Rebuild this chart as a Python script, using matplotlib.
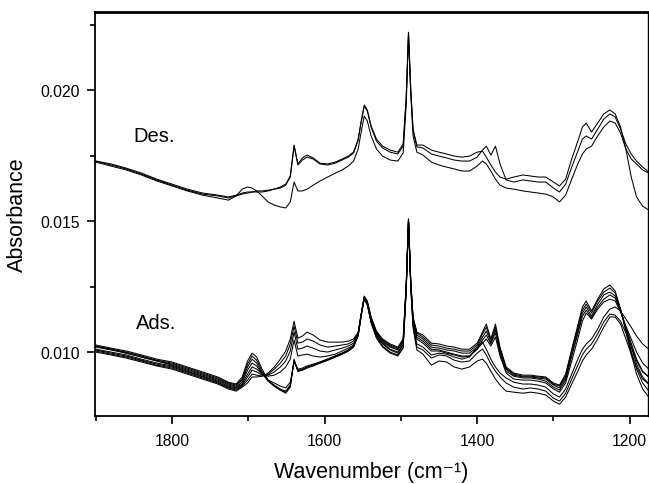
import matplotlib
matplotlib.use("Agg")
import matplotlib.pyplot as plt
from matplotlib.ticker import MultipleLocator, FormatStrFormatter

plt.rcParams['font.family'] = ['Liberation Sans', 'DejaVu Sans']
plt.rcParams['axes.unicode_minus'] = False

wavenumber = [1900, 1880, 1860, 1840, 1820, 1800, 1780, 1760, 1740, 1726, 1716, 1708,
              1701, 1695, 1689, 1682, 1674, 1666, 1658, 1651, 1645, 1640, 1635, 1629,
              1623, 1615, 1606, 1596, 1586, 1577, 1569, 1562, 1556, 1552, 1548, 1544,
              1539, 1532, 1524, 1514, 1504, 1497, 1493, 1490, 1487, 1484, 1479, 1471,
              1460, 1450, 1440, 1430, 1420, 1410, 1400, 1393, 1388, 1382, 1376, 1370,
              1362, 1352, 1340, 1330, 1320, 1310, 1300, 1292, 1284, 1276, 1268, 1262,
              1257, 1250, 1242, 1234, 1226, 1219, 1212, 1205, 1198, 1191, 1183, 1175]

# Desorption spectra
des_1 = [0.01729, 0.01714, 0.01699, 0.01679, 0.01657, 0.01637, 0.01618, 0.01603, 0.01596, 0.01588, 0.01596, 0.01603,
         0.01607, 0.01611, 0.01615, 0.01615, 0.01618, 0.01622, 0.01626, 0.01637, 0.01668, 0.01790, 0.01718, 0.01741,
         0.01752, 0.01741, 0.01721, 0.01718, 0.01725, 0.01737, 0.01748, 0.01763, 0.01813, 0.01882, 0.01943, 0.01924,
         0.01863, 0.01813, 0.01786, 0.01771, 0.01763, 0.01794, 0.01973, 0.02221, 0.02004, 0.01851, 0.01790, 0.01790,
         0.01771, 0.01763, 0.01756, 0.01748, 0.01744, 0.01748, 0.01763, 0.01767, 0.01744, 0.01714, 0.01687, 0.01668,
         0.01660, 0.01668, 0.01676, 0.01672, 0.01668, 0.01668, 0.01649, 0.01634, 0.01660, 0.01737, 0.01805, 0.01859,
         0.01874, 0.01840, 0.01874, 0.01909, 0.01924, 0.01909, 0.01859, 0.01775, 0.01668, 0.01592, 0.01557, 0.01542]
des_2 = [0.01729, 0.01718, 0.01702, 0.01683, 0.01660, 0.01641, 0.01622, 0.01607, 0.01599, 0.01592, 0.01599, 0.01607,
         0.01611, 0.01611, 0.01611, 0.01611, 0.01615, 0.01622, 0.01630, 0.01641, 0.01672, 0.01786, 0.01714, 0.01733,
         0.01744, 0.01737, 0.01718, 0.01714, 0.01721, 0.01733, 0.01744, 0.01760, 0.01809, 0.01878, 0.01939, 0.01920,
         0.01859, 0.01805, 0.01779, 0.01763, 0.01756, 0.01786, 0.01966, 0.02218, 0.01996, 0.01844, 0.01783, 0.01779,
         0.01756, 0.01748, 0.01741, 0.01733, 0.01729, 0.01729, 0.01744, 0.01771, 0.01786, 0.01752, 0.01786, 0.01718,
         0.01657, 0.01649, 0.01657, 0.01653, 0.01649, 0.01649, 0.01626, 0.01611, 0.01641, 0.01706, 0.01767, 0.01813,
         0.01825, 0.01813, 0.01851, 0.01889, 0.01909, 0.01897, 0.01851, 0.01794, 0.01756, 0.01729, 0.01706, 0.01687]
des_3 = [0.01725, 0.01710, 0.01695, 0.01676, 0.01653, 0.01634, 0.01615, 0.01599, 0.01588, 0.01580, 0.01596, 0.01622,
         0.01630, 0.01626, 0.01615, 0.01596, 0.01573, 0.01561, 0.01554, 0.01550, 0.01573, 0.01649, 0.01615, 0.01615,
         0.01622, 0.01637, 0.01653, 0.01668, 0.01683, 0.01695, 0.01710, 0.01729, 0.01775, 0.01840, 0.01901, 0.01882,
         0.01825, 0.01775, 0.01748, 0.01733, 0.01729, 0.01760, 0.01943, 0.02210, 0.01981, 0.01825, 0.01763, 0.01752,
         0.01725, 0.01714, 0.01706, 0.01699, 0.01691, 0.01691, 0.01710, 0.01729, 0.01718, 0.01691, 0.01660, 0.01637,
         0.01626, 0.01622, 0.01615, 0.01611, 0.01607, 0.01603, 0.01592, 0.01573, 0.01599, 0.01660, 0.01718, 0.01756,
         0.01775, 0.01786, 0.01825, 0.01859, 0.01882, 0.01874, 0.01836, 0.01775, 0.01737, 0.01718, 0.01695, 0.01683]

# Adsorption spectra
ads_1 = [0.01027, 0.01015, 0.01004, 0.00989, 0.00973, 0.00962, 0.00943, 0.00924, 0.00905, 0.00885, 0.00878, 0.00905,
         0.00966, 0.00996, 0.00981, 0.00935, 0.00893, 0.00870, 0.00855, 0.00843, 0.00866, 0.00973, 0.00927, 0.00931,
         0.00943, 0.00950, 0.00962, 0.00973, 0.00985, 0.00996, 0.01008, 0.01023, 0.01069, 0.01145, 0.01214, 0.01195,
         0.01134, 0.01080, 0.01050, 0.01031, 0.01019, 0.01050, 0.01260, 0.01508, 0.01271, 0.01134, 0.01076, 0.01065,
         0.01034, 0.01031, 0.01023, 0.01019, 0.01011, 0.01011, 0.01034, 0.01076, 0.01107, 0.01050, 0.01107, 0.01019,
         0.00943, 0.00920, 0.00912, 0.00912, 0.00908, 0.00905, 0.00882, 0.00874, 0.00916, 0.01011, 0.01103, 0.01172,
         0.01195, 0.01157, 0.01202, 0.01241, 0.01256, 0.01233, 0.01164, 0.01076, 0.00992, 0.00916, 0.00859, 0.00828]
ads_2 = [0.01023, 0.01011, 0.01000, 0.00985, 0.00969, 0.00958, 0.00939, 0.00920, 0.00901, 0.00882, 0.00874, 0.00897,
         0.00954, 0.00985, 0.00969, 0.00927, 0.00889, 0.00870, 0.00855, 0.00847, 0.00870, 0.00969, 0.00927, 0.00931,
         0.00939, 0.00947, 0.00958, 0.00969, 0.00981, 0.00992, 0.01004, 0.01019, 0.01065, 0.01141, 0.01210, 0.01191,
         0.01130, 0.01076, 0.01046, 0.01027, 0.01015, 0.01046, 0.01256, 0.01508, 0.01267, 0.01130, 0.01073, 0.01057,
         0.01027, 0.01023, 0.01015, 0.01011, 0.01004, 0.01004, 0.01027, 0.01069, 0.01095, 0.01046, 0.01095, 0.01011,
         0.00939, 0.00916, 0.00908, 0.00908, 0.00905, 0.00901, 0.00878, 0.00870, 0.00908, 0.01004, 0.01092, 0.01160,
         0.01183, 0.01149, 0.01195, 0.01229, 0.01244, 0.01225, 0.01164, 0.01084, 0.01004, 0.00935, 0.00882, 0.00851]
ads_3 = [0.01023, 0.01011, 0.00996, 0.00981, 0.00966, 0.00954, 0.00935, 0.00916, 0.00897, 0.00878, 0.00870, 0.00893,
         0.00943, 0.00973, 0.00958, 0.00920, 0.00889, 0.00874, 0.00859, 0.00851, 0.00874, 0.00966, 0.00931, 0.00935,
         0.00943, 0.00950, 0.00958, 0.00969, 0.00981, 0.00992, 0.01004, 0.01019, 0.01065, 0.01141, 0.01210, 0.01191,
         0.01126, 0.01073, 0.01042, 0.01023, 0.01011, 0.01042, 0.01252, 0.01504, 0.01263, 0.01126, 0.01065, 0.01050,
         0.01019, 0.01015, 0.01008, 0.01004, 0.00996, 0.00996, 0.01019, 0.01057, 0.01080, 0.01038, 0.01084, 0.01004,
         0.00935, 0.00912, 0.00905, 0.00905, 0.00901, 0.00897, 0.00874, 0.00863, 0.00901, 0.00992, 0.01080, 0.01149,
         0.01172, 0.01137, 0.01183, 0.01218, 0.01229, 0.01214, 0.01160, 0.01092, 0.01019, 0.00954, 0.00905, 0.00878]
ads_4 = [0.01019, 0.01008, 0.00996, 0.00981, 0.00966, 0.00950, 0.00931, 0.00912, 0.00893, 0.00874, 0.00866, 0.00885,
         0.00931, 0.00958, 0.00947, 0.00916, 0.00893, 0.00882, 0.00870, 0.00863, 0.00885, 0.00962, 0.00935, 0.00939,
         0.00947, 0.00954, 0.00962, 0.00973, 0.00985, 0.00996, 0.01008, 0.01023, 0.01061, 0.01137, 0.01206, 0.01187,
         0.01122, 0.01069, 0.01038, 0.01019, 0.01008, 0.01038, 0.01248, 0.01504, 0.01260, 0.01122, 0.01057, 0.01042,
         0.01011, 0.01008, 0.01000, 0.00992, 0.00985, 0.00985, 0.01011, 0.01046, 0.01065, 0.01031, 0.01073, 0.00996,
         0.00927, 0.00908, 0.00901, 0.00901, 0.00897, 0.00889, 0.00866, 0.00855, 0.00893, 0.00985, 0.01069, 0.01137,
         0.01160, 0.01130, 0.01172, 0.01202, 0.01218, 0.01206, 0.01157, 0.01095, 0.01034, 0.00973, 0.00927, 0.00905]
ads_5 = [0.01011, 0.01000, 0.00989, 0.00973, 0.00958, 0.00947, 0.00927, 0.00908, 0.00889, 0.00870, 0.00863, 0.00878,
         0.00916, 0.00943, 0.00935, 0.00916, 0.00908, 0.00912, 0.00924, 0.00943, 0.00973, 0.01046, 0.00985, 0.00989,
         0.00992, 0.00985, 0.00981, 0.00985, 0.00992, 0.01004, 0.01015, 0.01027, 0.01065, 0.01141, 0.01206, 0.01183,
         0.01118, 0.01065, 0.01034, 0.01011, 0.01000, 0.01031, 0.01244, 0.01500, 0.01256, 0.01118, 0.01050, 0.01034,
         0.01004, 0.01004, 0.00996, 0.00989, 0.00981, 0.00985, 0.01011, 0.01034, 0.01050, 0.01023, 0.01057, 0.00985,
         0.00920, 0.00897, 0.00893, 0.00893, 0.00889, 0.00882, 0.00859, 0.00847, 0.00882, 0.00966, 0.01050, 0.01118,
         0.01149, 0.01126, 0.01164, 0.01191, 0.01202, 0.01195, 0.01153, 0.01099, 0.01050, 0.01000, 0.00958, 0.00935]
ads_6 = [0.01008, 0.00996, 0.00985, 0.00969, 0.00954, 0.00943, 0.00924, 0.00905, 0.00885, 0.00866, 0.00859, 0.00874,
         0.00905, 0.00931, 0.00924, 0.00912, 0.00912, 0.00924, 0.00943, 0.00966, 0.01004, 0.01076, 0.01011, 0.01015,
         0.01023, 0.01015, 0.01004, 0.01000, 0.01008, 0.01015, 0.01023, 0.01034, 0.01069, 0.01145, 0.01210, 0.01187,
         0.01118, 0.01061, 0.01031, 0.01008, 0.00996, 0.01027, 0.01241, 0.01500, 0.01252, 0.01107, 0.01031, 0.01019,
         0.00989, 0.00996, 0.00992, 0.00981, 0.00973, 0.00981, 0.01019, 0.01038, 0.01011, 0.00973, 0.00943, 0.00920,
         0.00901, 0.00885, 0.00878, 0.00878, 0.00874, 0.00866, 0.00840, 0.00828, 0.00859, 0.00916, 0.00973, 0.01011,
         0.01031, 0.01050, 0.01088, 0.01134, 0.01164, 0.01172, 0.01157, 0.01126, 0.01095, 0.01061, 0.01031, 0.01011]
ads_7 = [0.01004, 0.00992, 0.00981, 0.00966, 0.00950, 0.00939, 0.00920, 0.00901, 0.00882, 0.00863, 0.00855, 0.00870,
         0.00893, 0.00916, 0.00912, 0.00908, 0.00916, 0.00935, 0.00958, 0.00985, 0.01031, 0.01099, 0.01034, 0.01038,
         0.01050, 0.01042, 0.01027, 0.01019, 0.01023, 0.01027, 0.01031, 0.01042, 0.01073, 0.01145, 0.01206, 0.01183,
         0.01115, 0.01057, 0.01023, 0.01000, 0.00989, 0.01019, 0.01237, 0.01496, 0.01248, 0.01099, 0.01019, 0.01008,
         0.00977, 0.00989, 0.00985, 0.00969, 0.00962, 0.00966, 0.00996, 0.01011, 0.00989, 0.00954, 0.00927, 0.00905,
         0.00882, 0.00866, 0.00859, 0.00863, 0.00859, 0.00851, 0.00824, 0.00813, 0.00843, 0.00897, 0.00950, 0.00989,
         0.01011, 0.01031, 0.01069, 0.01115, 0.01145, 0.01141, 0.01118, 0.01073, 0.01023, 0.00966, 0.00924, 0.00905]
ads_8 = [0.01000, 0.00989, 0.00977, 0.00962, 0.00947, 0.00935, 0.00916, 0.00897, 0.00878, 0.00859, 0.00851, 0.00866,
         0.00882, 0.00905, 0.00905, 0.00908, 0.00920, 0.00943, 0.00973, 0.01004, 0.01050, 0.01118, 0.01053, 0.01061,
         0.01076, 0.01065, 0.01046, 0.01038, 0.01038, 0.01038, 0.01042, 0.01050, 0.01076, 0.01145, 0.01202, 0.01179,
         0.01111, 0.01053, 0.01019, 0.00996, 0.00985, 0.01015, 0.01233, 0.01496, 0.01244, 0.01092, 0.01008, 0.00992,
         0.00950, 0.00966, 0.00962, 0.00943, 0.00935, 0.00943, 0.00966, 0.00973, 0.00958, 0.00927, 0.00897, 0.00874,
         0.00851, 0.00847, 0.00843, 0.00847, 0.00843, 0.00836, 0.00813, 0.00801, 0.00828, 0.00878, 0.00927, 0.00966,
         0.00989, 0.01011, 0.01050, 0.01095, 0.01134, 0.01134, 0.01107, 0.01050, 0.00992, 0.00943, 0.00897, 0.00878]

des_spectra = [des_1, des_2, des_3]
ads_spectra = [ads_1, ads_2, ads_3, ads_4, ads_5, ads_6, ads_7, ads_8]
labels = ["Des.", "Ads."]

fig = plt.figure(figsize=(6.49, 4.85), dpi=100)
ax = fig.add_axes([95/649, 68/485, 553/649, 404/485])

for s in des_spectra + ads_spectra:
    ax.plot(wavenumber, s, color='black', lw=0.75, solid_joinstyle='round')

ax.set_xlim(1901, 1176)
ax.set_ylim(0.00756, 0.02298)

ax.xaxis.set_major_locator(MultipleLocator(200))
ax.xaxis.set_minor_locator(MultipleLocator(100))
ax.yaxis.set_major_locator(MultipleLocator(0.005))
ax.yaxis.set_minor_locator(MultipleLocator(0.0025))
ax.yaxis.set_major_formatter(FormatStrFormatter('%.3f'))

ax.tick_params(which='major', direction='out', length=6, width=1.2, labelsize=11.3, pad=6)
ax.tick_params(which='minor', direction='out', length=3.5, width=1.2)
ax.tick_params(axis='y', which='major', pad=5)
ax.tick_params(top=False, right=False, which='both')

for side in ['left', 'bottom']:
    ax.spines[side].set_linewidth(1.3)
ax.spines['top'].set_linewidth(2.0)
ax.spines['right'].set_linewidth(1.0)

ax.set_xlabel('Wavenumber (cm\u207b\u00b9)', fontsize=15.5)
ax.xaxis.label.set_va('baseline')
ax.set_ylabel('Absorbance', fontsize=15.5)
ax.xaxis.set_label_coords(0.5, -0.150)
ax.yaxis.set_label_coords(-0.122, 0.5)

ax.text(1851, 0.01805, labels[0], fontsize=14.5, ha='left', va='baseline')
ax.text(1847, 0.01092, labels[1], fontsize=14.5, ha='left', va='baseline')

fig.savefig('out.png', dpi=100)
